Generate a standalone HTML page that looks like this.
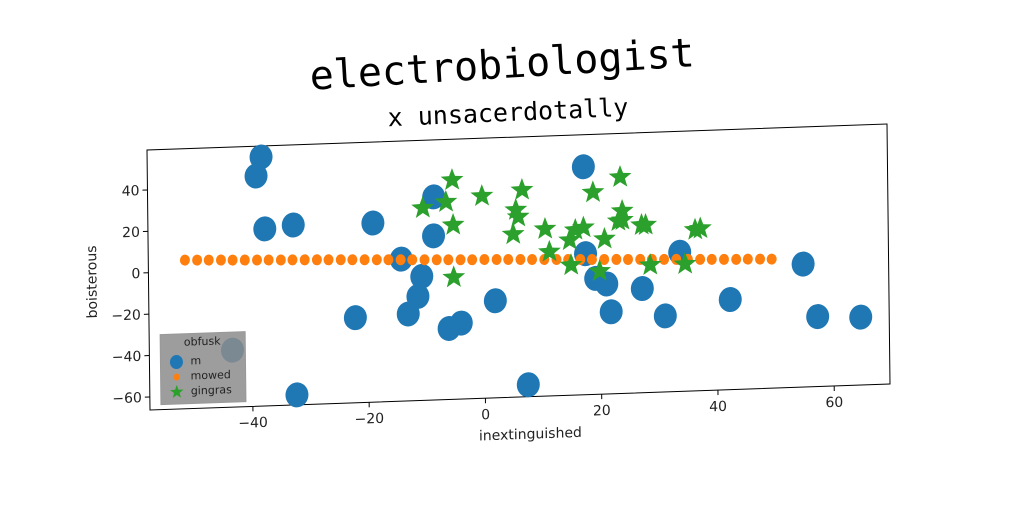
<!DOCTYPE html>
<html><head><meta charset="utf-8"><style>
html,body{margin:0;padding:0;background:#fff;width:1024px;height:512px;overflow:hidden}
svg{display:block}
text{font-family:"DejaVu Sans","Liberation Sans",sans-serif}
text.mono{font-family:"DejaVu Sans Mono","Liberation Mono",monospace}
</style></head><body>
<svg id="chart" width="1024" height="512" xmlns="http://www.w3.org/2000/svg">
<text class="mono" x="502" y="78" font-size="40" text-anchor="middle" transform="rotate(-3.5 502 64)">electrobiologist</text>
<text class="mono" x="508" y="121" font-size="25" text-anchor="middle" transform="rotate(-2.5 508 113)">x unsacerdotally</text>
<g id="plot" transform="matrix(1,-0.0351,0.01154,1,147,150)"></g>
</svg>
<script>
const xTicks=[-40,-20,0,20,40,60];
const yTicks=[-60,-40,-20,0,20,40];
const mX=[-38.1,-39.0,-37.6,-32.7,-19.0,-8.5,-8.6,-14.2,-10.7,-11.4,-13.1,-22.2,-32.4,-43.4,-6.1,-4.0,1.9,7.4,17.3,17.5,19.2,21.1,21.8,27.2,31.1,33.7,42.3,54.9,57.3,64.7];
const mY=[54,44.9,19.2,20.6,20.2,31.8,13,2.3,-6.4,-16,-24.3,-25.2,-61.5,-38.8,-32,-29.6,-19.4,-60.5,43.8,1.8,-10.3,-13.2,-26.7,-16,-29.6,0.9,-22.8,-6.9,-32.5,-33.5];
const mowedX=[-51.4,-49.3,-47.3,-45.2,-43.2,-41.1,-39.0,-37.0,-34.9,-32.9,-30.8,-28.7,-26.7,-24.6,-22.6,-20.5,-18.4,-16.4,-14.3,-12.3,-10.2,-8.1,-6.1,-4.0,-2.0,0.1,2.2,4.2,6.3,8.3,10.4,12.5,14.5,16.6,18.6,20.7,22.8,24.8,26.9,28.9,31.0,33.1,35.1,37.2,39.2,41.3,43.4,45.4,47.5,49.5];
const mowedY=[5.5,5.3,5.1,4.9,4.7,4.5,4.3,4.1,3.9,3.8,3.6,3.4,3.2,3.0,2.8,2.6,2.4,2.2,2.0,1.8,1.6,1.4,1.2,1.0,0.8,0.7,0.5,0.3,0.1,-0.1,-0.3,-0.5,-0.7,-0.9,-1.1,-1.3,-1.5,-1.7,-1.9,-2.1,-2.3,-2.5,-2.7,-2.9,-3.1,-3.3,-3.5,-3.6,-3.8,-4.0];
const gX=[-5.3,-10.4,-6.4,-5.2,-0.2,6.7,5.6,6.0,5.1,10.6,11.3,14.8,15.8,17.2,18.9,15.0,20.8,23.6,23.9,23.9,23.2,27.2,27.9,28.6,34.6,36.4,37.3,-5.2,19.9];
const gY=[39.6,26.6,29.1,17.9,31.4,33.6,24.1,20.7,12.4,14.4,3.3,8.6,13.4,14.4,31.3,-3.5,8.6,38.2,21.8,17.4,17,14.7,14.6,-4.8,-4.9,11.5,12,-7.4,-6.9];

const W=740,H=260,XMIN=-57.7,XMAX=69.6,YMIN=-66.3,YMAX=59.3;
const sx=v=>(v-XMIN)/(XMAX-XMIN)*W;
const sy=v=>(YMAX-v)/(YMAX-YMIN)*H;
const NS="http://www.w3.org/2000/svg";
const g=document.getElementById('plot');
function mk(tag,attrs,parent){const e=document.createElementNS(NS,tag);for(const k in attrs)e.setAttribute(k,attrs[k]);(parent||g).appendChild(e);return e;}

const frame=mk('rect',{x:0,y:0,width:W,height:H,fill:'none',stroke:'#000','stroke-width':1});



xTicks.forEach(t=>{
  const x=sx(t);
  const l=mk('line',{x1:x,x2:x,y1:H,y2:H+5,stroke:'#000'});
  
  
  const tx=mk('text',{x:x,y:H+21,'font-size':14,'text-anchor':'middle',fill:'#222'});
  tx.textContent=(t<0?'\u2212'+(-t):t);
  
  
});
yTicks.forEach(t=>{
  const y=sy(t);
  const l=mk('line',{x1:-5,x2:0,y1:y,y2:y,stroke:'#000'});
  
  
  const tx=mk('text',{x:-8,y:y+5,'font-size':14,'text-anchor':'end',fill:'#222'});
  tx.textContent=(t<0?'\u2212'+(-t):t);
  
  
});
const xl=mk('text',{x:W/2+10,y:H+42,'font-size':14,'text-anchor':'middle',fill:'#222'});
xl.textContent='inextinguished';


const yl=mk('text',{x:0,y:0,'font-size':14,'text-anchor':'middle',fill:'#222',transform:'translate(-52,'+(H/2)+') rotate(-90)'});
yl.textContent='boisterous';



function star(cx,cy,r){let p=[];for(let i=0;i<10;i++){const a=-Math.PI/2+i*Math.PI/5;const rr=i%2?r*0.42:r;p.push((cx+rr*Math.cos(a)).toFixed(1)+','+(cy+rr*Math.sin(a)).toFixed(1));}return p.join(' ');}

mX.forEach((v,i)=>{
  const c=mk('ellipse',{cx:sx(v),cy:sy(mY[i]),rx:11.5,ry:12.5,fill:'#1f77b4'});
  
  
});
const n=Math.min(mowedX.length,mowedY.length);
for(let i=0;i<n;i++){
  const c=mk('ellipse',{cx:sx(mowedX[i]),cy:sy(mowedY[i]),rx:5,ry:5.5,fill:'#ff7f0e'});
  
  
}
gX.forEach((v,i)=>{
  const s=mk('polygon',{points:star(sx(v),sy(gY[i]),12),fill:'#2ca02c'});
  
  
});

const lg=mk('g',{transform:'translate(11,185)'});


mk('rect',{x:0,y:0,width:85,height:70,fill:'#8c8c8c','fill-opacity':0.85,stroke:'#999'},lg);
const lt=mk('text',{x:42,y:12,'font-size':11,'text-anchor':'middle',fill:'#222'},lg);
lt.textContent='obfusk';


const e1=mk('ellipse',{cx:16,cy:28,rx:6.5,ry:7,fill:'#1f77b4'},lg);


const e2=mk('ellipse',{cx:16,cy:43,rx:3,ry:3.5,fill:'#ff7f0e'},lg);


const e3=mk('polygon',{points:star(16,58,7),fill:'#2ca02c'},lg);


[['m',31],['mowed',46],['gingras',61]].forEach(([s,y])=>{
  const t=mk('text',{x:30,y:y,'font-size':11,fill:'#222'},lg);
  t.textContent=s;
  
  
});
</script>
</body></html>
